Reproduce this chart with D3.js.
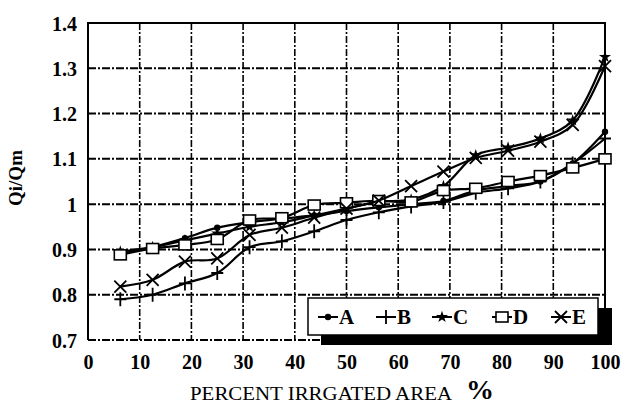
<!DOCTYPE html>
<html>
<head>
<meta charset="utf-8">
<script src="https://cdn.jsdelivr.net/npm/d3@7"></script>
<style>
  body { margin: 0; background: #fff; }
  svg { display: block; }
</style>
</head>
<body>
<div id="chart"></div>
<script>
var width = 624,
    height = 408;

// percent irrigated area (x) and Qi/Qm for each run
var pct = [6.25, 12.5, 18.75, 25, 31.25, 37.5, 43.75, 50, 56.25, 62.5, 68.75, 75, 81.25, 87.5, 93.75, 100];
var seriesA = [0.89, 0.905, 0.925, 0.948, 0.96, 0.968, 0.975, 0.985, 0.993, 1.0, 1.007, 1.03, 1.04, 1.05, 1.09, 1.16];
var seriesB = [0.79, 0.80, 0.825, 0.848, 0.905, 0.918, 0.94, 0.965, 0.982, 0.995, 1.005, 1.025, 1.035, 1.05, 1.09, 1.145];
var seriesC = [0.895, 0.905, 0.92, 0.935, 0.95, 0.96, 0.975, 0.99, 1.005, 1.01, 1.04, 1.108, 1.125, 1.145, 1.185, 1.325];
var seriesD = [0.888, 0.902, 0.91, 0.922, 0.965, 0.97, 0.998, 1.003, 1.008, 1.005, 1.03, 1.035, 1.05, 1.063, 1.08, 1.10];
var seriesE = [0.818, 0.833, 0.873, 0.88, 0.932, 0.948, 0.97, 0.99, 1.008, 1.04, 1.072, 1.102, 1.118, 1.138, 1.175, 1.305];
var names = ["A", "B", "C", "D", "E"];
var markers = ["dot", "plus", "star", "square", "cross"];
var xTicks = [0, 10, 20, 30, 40, 50, 60, 70, 80, 90, 100];
var yTicks = [0.7, 0.8, 0.9, 1, 1.1, 1.2, 1.3, 1.4];

var allSeries = [seriesA, seriesB, seriesC, seriesD, seriesE];

var svg = d3.select("#chart")
    .append("svg")
    .attr("width", width)
    .attr("height", height);

var x = d3.scaleLinear().domain([0, 100]).range([88, 605]);
var y = d3.scaleLinear().domain([0.7, 1.4]).range([340, 23]);

// grid
svg.append("g").selectAll("line.h")
    .data(yTicks.filter(function (d) { return d < 1.4; }))
  .enter().append("line")
    .attr("x1", x(0)).attr("x2", x(100))
    .attr("y1", function (d) { return y(d); })
    .attr("y2", function (d) { return y(d); })
    .attr("stroke", "#000")
    .attr("stroke-width", 2)
    .attr("stroke-dasharray", "8,2,2,2");

svg.append("g").selectAll("line.v")
    .data(xTicks.filter(function (d) { return d > 0 && d < 100; }))
  .enter().append("line")
    .attr("x1", function (d) { return x(d); })
    .attr("x2", function (d) { return x(d); })
    .attr("y1", y(1.4)).attr("y2", y(0.7))
    .attr("stroke", "#000")
    .attr("stroke-width", 1.6)
    .attr("stroke-dasharray", "7,2,2,2");

// frame: top, left, right solid
svg.append("path")
    .attr("d", "M" + x(0) + "," + y(0.7) + "V" + y(1.4) + "H" + x(100) + "V" + y(0.7))
    .attr("fill", "none")
    .attr("stroke", "#000")
    .attr("stroke-width", 2);

// axes (labels only)
var fmtY = function (d) { return d === 1 ? "1" : d3.format(".1f")(d); };

var yAxis = svg.append("g")
    .attr("transform", "translate(" + (x(0) - 8) + ",0)")
    .call(d3.axisLeft(y).tickValues(yTicks).tickFormat(fmtY).tickSize(0));
yAxis.select(".domain").remove();

var xAxis = svg.append("g")
    .attr("transform", "translate(0," + (y(0.7) + 12) + ")")
    .call(d3.axisBottom(x).tickValues(xTicks).tickSize(0));
xAxis.select(".domain").remove();

svg.selectAll(".tick text")
    .attr("font-family", "Liberation Serif, serif")
    .attr("font-weight", "bold")
    .attr("font-size", 20)
    .attr("fill", "#000");
yAxis.selectAll(".tick text").attr("dy", "0.35em");

svg.append("text")
    .attr("transform", "translate(22,178) rotate(-90)")
    .attr("text-anchor", "middle")
    .attr("font-family", "Liberation Serif, serif")
    .attr("font-weight", "bold")
    .attr("font-size", 19)
    .text("Qi/Qm");

svg.append("text")
    .attr("x", 190)
    .attr("y", 400)
    .attr("font-family", "Liberation Serif, serif")
    .attr("font-size", 18)
    .attr("textLength", 262)
    .attr("lengthAdjust", "spacingAndGlyphs")
    .text("PERCENT IRRGATED AREA");

svg.append("text")
    .attr("x", 480)
    .attr("y", 399)
    .attr("text-anchor", "middle")
    .attr("font-family", "Liberation Serif, serif")
    .attr("font-weight", "bold")
    .attr("font-size", 28)
    .text("%");

// marker drawing
function drawMarker(g, type) {
    if (type === "dot") {
        g.append("circle").attr("r", 3.2).attr("fill", "#000");
    } else if (type === "plus") {
        g.append("path").attr("d", "M-6,0H6M0,-7V7")
            .attr("stroke", "#000").attr("stroke-width", 1.8);
    } else if (type === "star") {
        g.append("path").attr("d", d3.symbol(d3.symbolStar, 45)())
            .attr("fill", "#000");
    } else if (type === "square") {
        g.append("rect").attr("x", -6).attr("y", -5).attr("width", 12).attr("height", 10)
            .attr("fill", "#fff").attr("stroke", "#000").attr("stroke-width", 1.6);
    } else if (type === "cross") {
        g.append("path").attr("d", "M-6,-6L6,6M-6,6L6,-6")
            .attr("stroke", "#000").attr("stroke-width", 1.8);
    }
}

var line = d3.line()
    .x(function (d) { return x(d[0]); })
    .y(function (d) { return y(d[1]); })
    .curve(d3.curveCatmullRom.alpha(0.5));

allSeries.forEach(function (vals, i) {
    var pts = pct.map(function (p, j) { return [p, vals[j]]; });
    var g = svg.append("g").attr("class", "series series-" + names[i]);
    g.append("path")
        .datum(pts)
        .attr("d", line)
        .attr("fill", "none")
        .attr("stroke", "#000")
        .attr("stroke-width", 2.2);
    g.selectAll("g.mk")
        .data(pts)
      .enter().append("g")
        .attr("class", "mk")
        .attr("transform", function (d) { return "translate(" + x(d[0]) + "," + y(d[1]) + ")"; })
        .each(function () { drawMarker(d3.select(this), markers[i]); });
});

// legend with heavy drop shadow
var lg = svg.append("g");
lg.append("rect")
    .attr("x", 321).attr("y", 308).attr("width", 291).attr("height", 37)
    .attr("fill", "#000");
lg.append("rect")
    .attr("x", 308).attr("y", 298).attr("width", 290).attr("height", 37)
    .attr("fill", "#fff")
    .attr("stroke", "#000")
    .attr("stroke-width", 1.5);

var legendX = [318, 376, 432, 492, 551];
names.forEach(function (n, i) {
    var item = lg.append("g").attr("transform", "translate(" + legendX[i] + ",317)");
    item.append("line").attr("x1", 0).attr("x2", 20)
        .attr("stroke", "#000").attr("stroke-width", 2);
    var m = item.append("g").attr("transform", "translate(10,0)");
    drawMarker(m, markers[i]);
    item.append("text")
        .attr("x", 21).attr("y", 7)
        .attr("font-family", "Liberation Serif, serif")
        .attr("font-weight", "bold")
        .attr("font-size", 21)
        .text(n);
});
</script>
</body>
</html>
